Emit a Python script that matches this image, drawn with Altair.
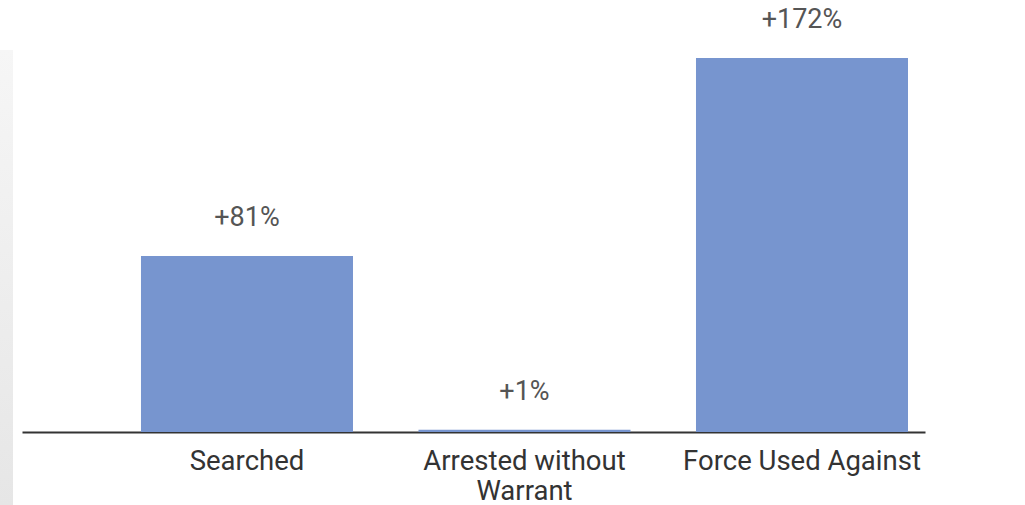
import altair as alt
import pandas as pd

categories = ["Searched", "Arrested without Warrant", "Force Used Against"]
values = [81, 1, 172]
labels = ["+81%", "+1%", "+172%"]

df = pd.DataFrame({"category": categories, "value": values, "label": labels})

x_enc = alt.X(
    "category:N",
    sort=categories,
    title=None,
    scale=alt.Scale(paddingInner=0.236, paddingOuter=0.245, align=0.875),
    axis=alt.Axis(
        labelAngle=0,
        labelFont="Roboto",
        labelFontSize=27.5,
        labelColor="#333333",
        labelPadding=29,
        labelLineHeight=30,
        labelBaseline="middle",
        labelLimit=0,
        ticks=False,
        domainColor="#333333",
        domainWidth=2,
        labelExpr="datum.label == 'Arrested without Warrant' ? ['Arrested without', 'Warrant'] : datum.label",
    ),
)
y_enc = alt.Y("value:Q", title=None, scale=alt.Scale(domain=[0, 198.7], nice=False), axis=None)

bars = alt.Chart(df).mark_bar(color="#7795cf").encode(x=x_enc, y=y_enc)
text = alt.Chart(df).mark_text(
    font="Roboto", fontSize=27, color="#555555", baseline="bottom", dy=-24
).encode(x=alt.X("category:N", sort=categories), y="value:Q", text="label:N")

strip = alt.Chart(df).mark_rect(
    color=alt.Gradient(
        gradient="linear",
        stops=[alt.GradientStop(color="#f6f6f6", offset=0), alt.GradientStop(color="#e6e6e6", offset=1)],
        x1=0, x2=0, y1=0, y2=1,
    ),
    clip=False,
).encode(x=alt.value(-22), x2=alt.value(-9), y=alt.value(50), y2=alt.value(505))

chart = (
    alt.layer(strip, bars, text)
    .properties(
        width=903,
        height=432,
        padding={"left": 22, "top": 0, "right": 100, "bottom": 73},
        autosize=alt.AutoSizeParams(type="none"),
    )
    .configure_view(stroke=None)
)

chart.save("out.html", embed_options={"renderer": "svg", "actions": False})
